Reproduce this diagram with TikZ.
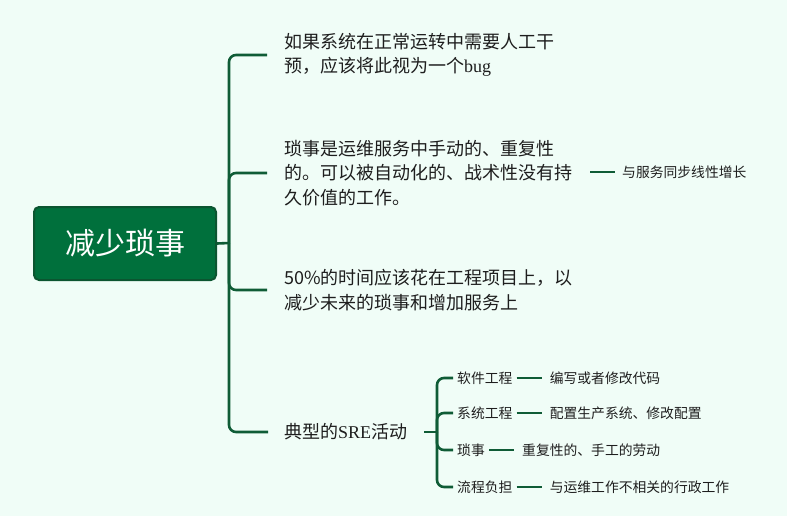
\documentclass[tikz,border=0pt]{standalone}
\usepackage{fontspec}
\newfontfamily\cjk{Noto Sans CJK SC}
\newfontfamily\lat{Liberation Serif}
\definecolor{bg}{HTML}{F0FDF7}
\definecolor{lc}{HTML}{0F5C36}
\definecolor{rootfill}{HTML}{00703C}
\definecolor{rootdraw}{HTML}{0B5530}
\definecolor{txt}{HTML}{1E1E1E}
\begin{document}
\begin{tikzpicture}[x=1pt,y=-1pt,
  conn/.style={draw=lc, line width=2.6pt, rounded corners=7pt},
  thin/.style={draw=lc, line width=1.8pt},
  rootbox/.style={draw=rootdraw, fill=rootfill, line width=2pt, rounded corners=5pt,
    minimum width=182pt, minimum height=73pt, text=white, inner sep=0pt,
    font=\cjk\fontsize{30}{34}\selectfont},
  big/.style={font=\cjk\fontsize{18}{24.5}\selectfont, text=txt, anchor=west, inner sep=0pt, align=left},
  small/.style={font=\cjk\fontsize{13.8}{16}\selectfont, text=txt, anchor=west, inner sep=0pt}]
\fill[bg] (0,0) rectangle (787,516);
\useasboundingbox (0,0) rectangle (787,516);
% root
\node[rootbox] (root) at (125,243.5) {减少琐事};
\coordinate (hub) at (229,243);
% main branches
\node[big] (b1) at (284,55) {如果系统在正常运转中需要人工干\\预，应该将此视为一个{\lat bug}};
\node[big] (b2) at (284,173) {琐事是运维服务中手动的、重复性\\的。可以被自动化的、战术性没有持\\久价值的工作。};
\node[big] (b3) at (284,290) {50\%的时间应该花在工程项目上，以\\减少未来的琐事和增加服务上};
\node[big] (b4) at (284,432) {典型的{\lat SRE}活动};
\draw[conn] (root.east) -- (hub);
\draw[conn] (hub) |- ([xshift=-17pt]b1.west);
\draw[conn] (hub) |- ([xshift=-17pt]b2.west);
\draw[conn] (hub) |- ([xshift=-17pt]b3.west);
\draw[conn] (hub) |- ([xshift=-16pt]b4.west);
% branch 2 child
\node[small] (b2a) at (622,172) {与服务同步线性增长};
\draw[conn] ([xshift=-32pt]b2a.west) -- ([xshift=-7pt]b2a.west);
% branch 4 children
\coordinate (hub4) at (437,432);
\draw[conn] ([xshift=-13pt]hub4) -- (hub4);
\node[small] (s1) at (457,378) {软件工程};
\node[small] (s2) at (457,413) {系统工程};
\node[small] (s3) at (457,450) {琐事};
\node[small] (s4) at (457,487) {流程负担};
\draw[conn] (hub4) |- ([xshift=-4pt]s1.west);
\draw[conn] (hub4) |- ([xshift=-4pt]s2.west);
\draw[conn] (hub4) |- ([xshift=-4pt]s3.west);
\draw[conn] (hub4) |- ([xshift=-4pt]s4.west);
\node[small] (t1) at ([xshift=37pt]s1.east) {编写或者修改代码};
\node[small] (t2) at ([xshift=37pt]s2.east) {配置生产系统、修改配置};
\node[small] (t3) at ([xshift=37pt]s3.east) {重复性的、手工的劳动};
\node[small] (t4) at ([xshift=37pt]s4.east) {与运维工作不相关的行政工作};
\draw[thin] ([xshift=4pt]s1.east) -- ([xshift=-8pt]t1.west);
\draw[thin] ([xshift=4pt]s2.east) -- ([xshift=-8pt]t2.west);
\draw[thin] ([xshift=4pt]s3.east) -- ([xshift=-8pt]t3.west);
\draw[thin] ([xshift=4pt]s4.east) -- ([xshift=-8pt]t4.west);
\end{tikzpicture}
\end{document}
